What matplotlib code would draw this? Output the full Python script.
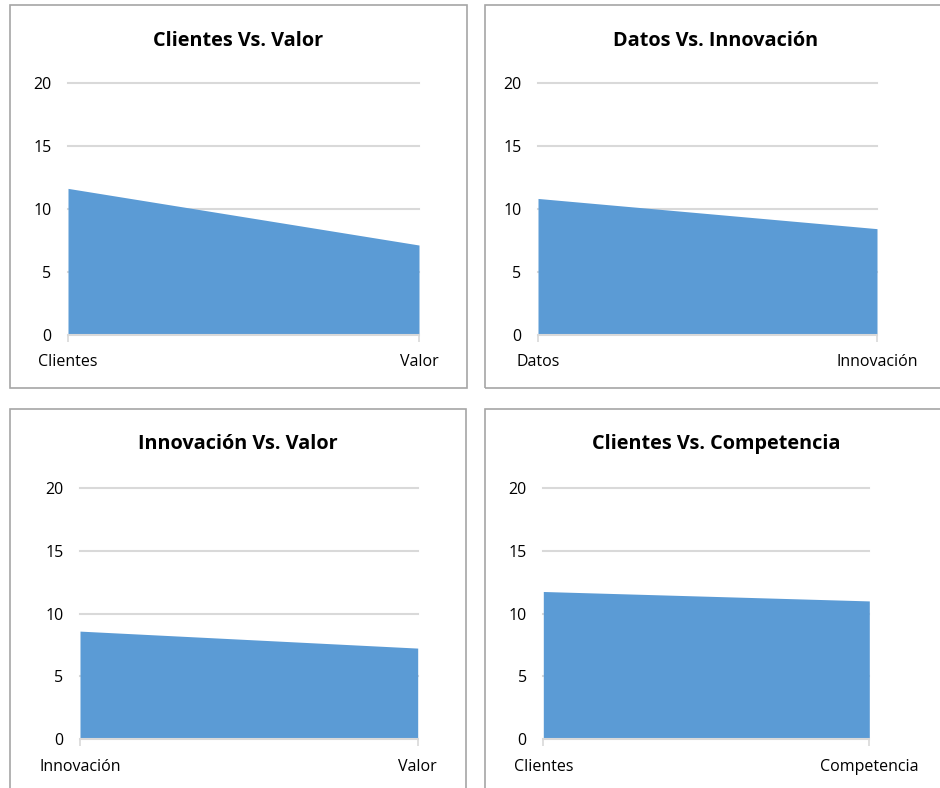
import matplotlib
matplotlib.use("Agg")
import matplotlib.pyplot as plt
from matplotlib.patches import Rectangle

plt.rcParams['font.family'] = ['Open Sans', 'DejaVu Sans']

W, H = 940, 788

titles = ["Clientes Vs. Valor", "Datos Vs. Innovación",
          "Innovación Vs. Valor", "Clientes Vs. Competencia"]
cats_1 = ["Clientes", "Valor"]
cats_2 = ["Datos", "Innovación"]
cats_3 = ["Innovación", "Valor"]
cats_4 = ["Clientes", "Competencia"]
vals_1 = [11.65, 7.15]
vals_2 = [10.85, 8.45]
vals_3 = [8.6, 7.25]
vals_4 = [11.75, 11.0]
y_ticks = [0, 5, 10, 15, 20]

fill_color = "#5b9bd5"
grid_color = "#d9d9d9"
frame_color = "#a6a6a6"

fig = plt.figure(figsize=(W / 100, H / 100), dpi=100)
fig.patch.set_facecolor("white")

# chart frames and plot areas in pixel coordinates (left, top, right, bottom)
frames = [(10, 5, 467, 388), (485, 5, 947, 388),
          (10, 409, 466, 800), (485, 409, 947, 800)]
plots = [(68, 83.3, 419, 335), (538, 83.3, 877, 335),
         (80, 487.7, 417.7, 739.3), (543.3, 487.7, 869.3, 739.3)]
title_y = [41, 41, 444, 444]

cats_all = [cats_1, cats_2, cats_3, cats_4]
vals_all = [vals_1, vals_2, vals_3, vals_4]

for i in range(4):
    fl, ft, fr, fb = frames[i]
    fig.patches.append(Rectangle((fl / W, 1 - fb / H), (fr - fl) / W, (fb - ft) / H,
                                 transform=fig.transFigure, fill=False,
                                 edgecolor=frame_color, linewidth=1.2, zorder=0))
    l, t, r, b = plots[i]
    ax = fig.add_axes([l / W, 1 - b / H, (r - l) / W, (b - t) / H])
    x = list(range(len(cats_all[i])))
    ax.fill_between(x, 0, vals_all[i], color=fill_color, linewidth=0, zorder=2)
    ax.set_xlim(0, len(x) - 1)
    ax.set_ylim(0, 20)
    ax.set_yticks(y_ticks)
    ax.set_yticklabels([str(v) for v in y_ticks])
    for v in y_ticks[1:]:
        ax.axhline(v, color=grid_color, linewidth=1.5, zorder=1, clip_on=False)
    ax.set_xticks(x)
    ax.set_xticklabels(cats_all[i])
    for s in ["top", "right", "left"]:
        ax.spines[s].set_visible(False)
    ax.spines["bottom"].set_color(grid_color)
    ax.spines["bottom"].set_linewidth(1.5)
    ax.spines["bottom"].set_zorder(3)
    ax.tick_params(axis="y", length=0, pad=12, labelsize=11.5, labelcolor="#000000")
    ax.tick_params(axis="x", length=5, width=1.2, color=grid_color, pad=9,
                   labelsize=11.5, labelcolor="#000000")
    ax.set_facecolor("none")
    fig.text(((fl + fr) / 2) / W, 1 - title_y[i] / H, titles[i],
             ha="center", va="center",
             fontsize=14.3, fontweight="bold", color="#000000")

fig.savefig("out.png", dpi=100)
